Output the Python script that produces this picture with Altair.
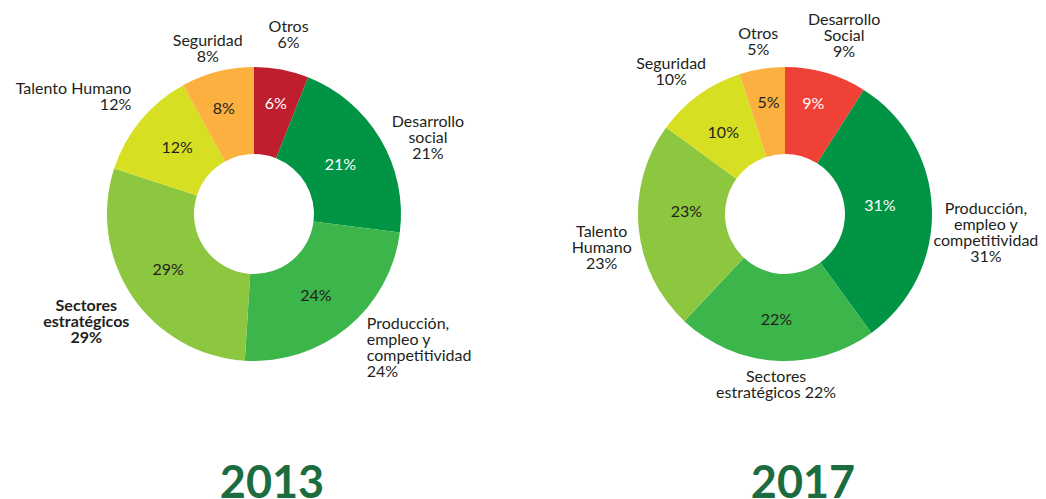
import math
import altair as alt
import pandas as pd

# ---------------- data ----------------
years = ["2013", "2017"]

cats_2013 = ["Otros", "Desarrollo social", "Producción, empleo y competitividad",
             "Sectores estratégicos", "Talento Humano", "Seguridad"]
vals_2013 = [6, 21, 24, 29, 12, 8]
labels_2013 = ["Otros\n6%", "Desarrollo\nsocial\n21%",
               "Producción,\nempleo y\ncompetitividad\n24%",
               "Sectores\nestratégicos\n29%", "Talento Humano\n12%", "Seguridad\n8%"]

cats_2017 = ["Desarrollo Social", "Producción, empleo y competitividad",
             "Sectores estratégicos", "Talento Humano", "Seguridad", "Otros"]
vals_2017 = [9, 31, 22, 23, 10, 5]
labels_2017 = ["Desarrollo\nSocial\n9%",
               "Producción,\nempleo y\ncompetitividad\n31%",
               "Sectores\nestratégicos 22%", "Talento\nHumano\n23%",
               "Seguridad\n10%", "Otros\n5%"]

# ---------------- style ----------------
colors = {
    "2013": ["#be1e2d", "#009444", "#3cb54a", "#8dc63f", "#d7df23", "#fbb040"],
    "2017": ["#ef4136", "#009444", "#3cb54a", "#8dc63f", "#d7df23", "#fbb040"],
}
white_slots = {0, 1}
FONT = "Lato"
FS = 16
LH = 16
DARK = "#231f20"
YEAR_COLOR = "#1b6d40"
R_OUT, R_IN = 147, 60
R_LABEL, R_INNER = 158, 105
CENTER_X = [246, 777]
CENTER_Y = 206

# per-label layout: (align, dx, dy, bold) for outer labels; (dx, dy) for inner
outer_layout = {
    "2013": [("center", 5, -40, False), ("center", 38, -20, False),
             ("left", 12, -20, False), ("center", -37, -5, True),
             ("right", -1, -32, False), ("center", -7, -28, False)],
    "2017": [("center", 15, -50, False), ("center", 43, -8, False),
             ("center", 1, -3, False), ("center", -26, -5, False),
             ("center", -21, -30, False), ("center", -2, -32, False)],
}
inner_layout = {
    "2013": [(2, -7), (-4, 4), (-5, 1), (1, -3), (4, 1), (-4, -3)],
    "2017": [(-1, -9), (-10, -5), (-2, 1), (6, -12), (0, 4), (0, -7)],
}

rows = []
for yr, cats, vals, labs in [("2013", cats_2013, vals_2013, labels_2013),
                             ("2017", cats_2017, vals_2017, labels_2017)]:
    for i, (c, v, l) in enumerate(zip(cats, vals, labs)):
        rows.append({"year": yr, "idx": i, "cat": c, "value": v,
                     "label": l, "pct": f"{v}%", "key": f"{yr}-{i}"})
df = pd.DataFrame(rows)
year_df = pd.DataFrame({"year": years})

color_domain = [f"{y}-{i}" for y in years for i in range(6)]
color_range = [colors[y][i] for y in years for i in range(6)]

x_enc = alt.X("year:N", scale=alt.Scale(type="point", padding=0, domain=years, range=CENTER_X),
              axis=None)
y_enc = alt.value(CENTER_Y)
theta_scale = alt.Scale(domain=[0, 1], range=[0, 2 * math.pi])

base = (
    alt.Chart(df)
    .transform_joinaggregate(total="sum(value)", groupby=["year"])
    .transform_window(cum="sum(value)", groupby=["year"],
                      sort=[alt.SortField("idx")], frame=[None, 0])
    .transform_calculate(
        t0="(datum.cum - datum.value) / datum.total",
        t1="datum.cum / datum.total",
        tm="(datum.cum - datum.value / 2) / datum.total",
    )
)

arcs = base.mark_arc(innerRadius=R_IN, outerRadius=R_OUT).encode(
    x=x_enc, y=y_enc,
    theta=alt.Theta("t0:Q", scale=theta_scale, stack=None),
    theta2="t1:Q",
    color=alt.Color("key:N", scale=alt.Scale(domain=color_domain, range=color_range), legend=None),
)

layers = [arcs]
for yr in years:
    for i in range(6):
        flt = f"datum.year == '{yr}' && datum.idx == {i}"
        dx, dy = inner_layout[yr][i]
        layers.append(
            base.transform_filter(flt).mark_text(
                radius=R_INNER, align="center", baseline="middle", dx=dx, dy=dy,
                font=FONT, fontSize=FS,
                color="white" if i in white_slots else DARK,
            ).encode(x=x_enc, y=y_enc,
                     theta=alt.Theta("tm:Q", scale=theta_scale, stack=None),
                     text="pct:N")
        )
        al, odx, ody, bold = outer_layout[yr][i]
        layers.append(
            base.transform_filter(flt).mark_text(
                radius=R_LABEL, align=al, baseline="top", dx=odx, dy=ody,
                font=FONT, fontSize=FS, lineBreak="\n", lineHeight=LH,
                fontWeight="bold" if bold else "normal", color=DARK,
            ).encode(x=x_enc, y=y_enc,
                     theta=alt.Theta("tm:Q", scale=theta_scale, stack=None),
                     text="label:N")
        )

year_text = alt.Chart(year_df).mark_text(
    font=FONT, fontSize=45, fontWeight="bold",
    color=YEAR_COLOR, align="center", baseline="alphabetic", dx=18,
).encode(x=x_enc, y=alt.value(490), text="year:N")
layers.append(year_text)

chart = alt.layer(*layers).properties(
    width=1030, height=491, padding=0,
    autosize=alt.AutoSizeParams(type="none"),
).configure_view(stroke=None)

chart.save("out.html", embed_options={"renderer": "svg", "actions": False})
